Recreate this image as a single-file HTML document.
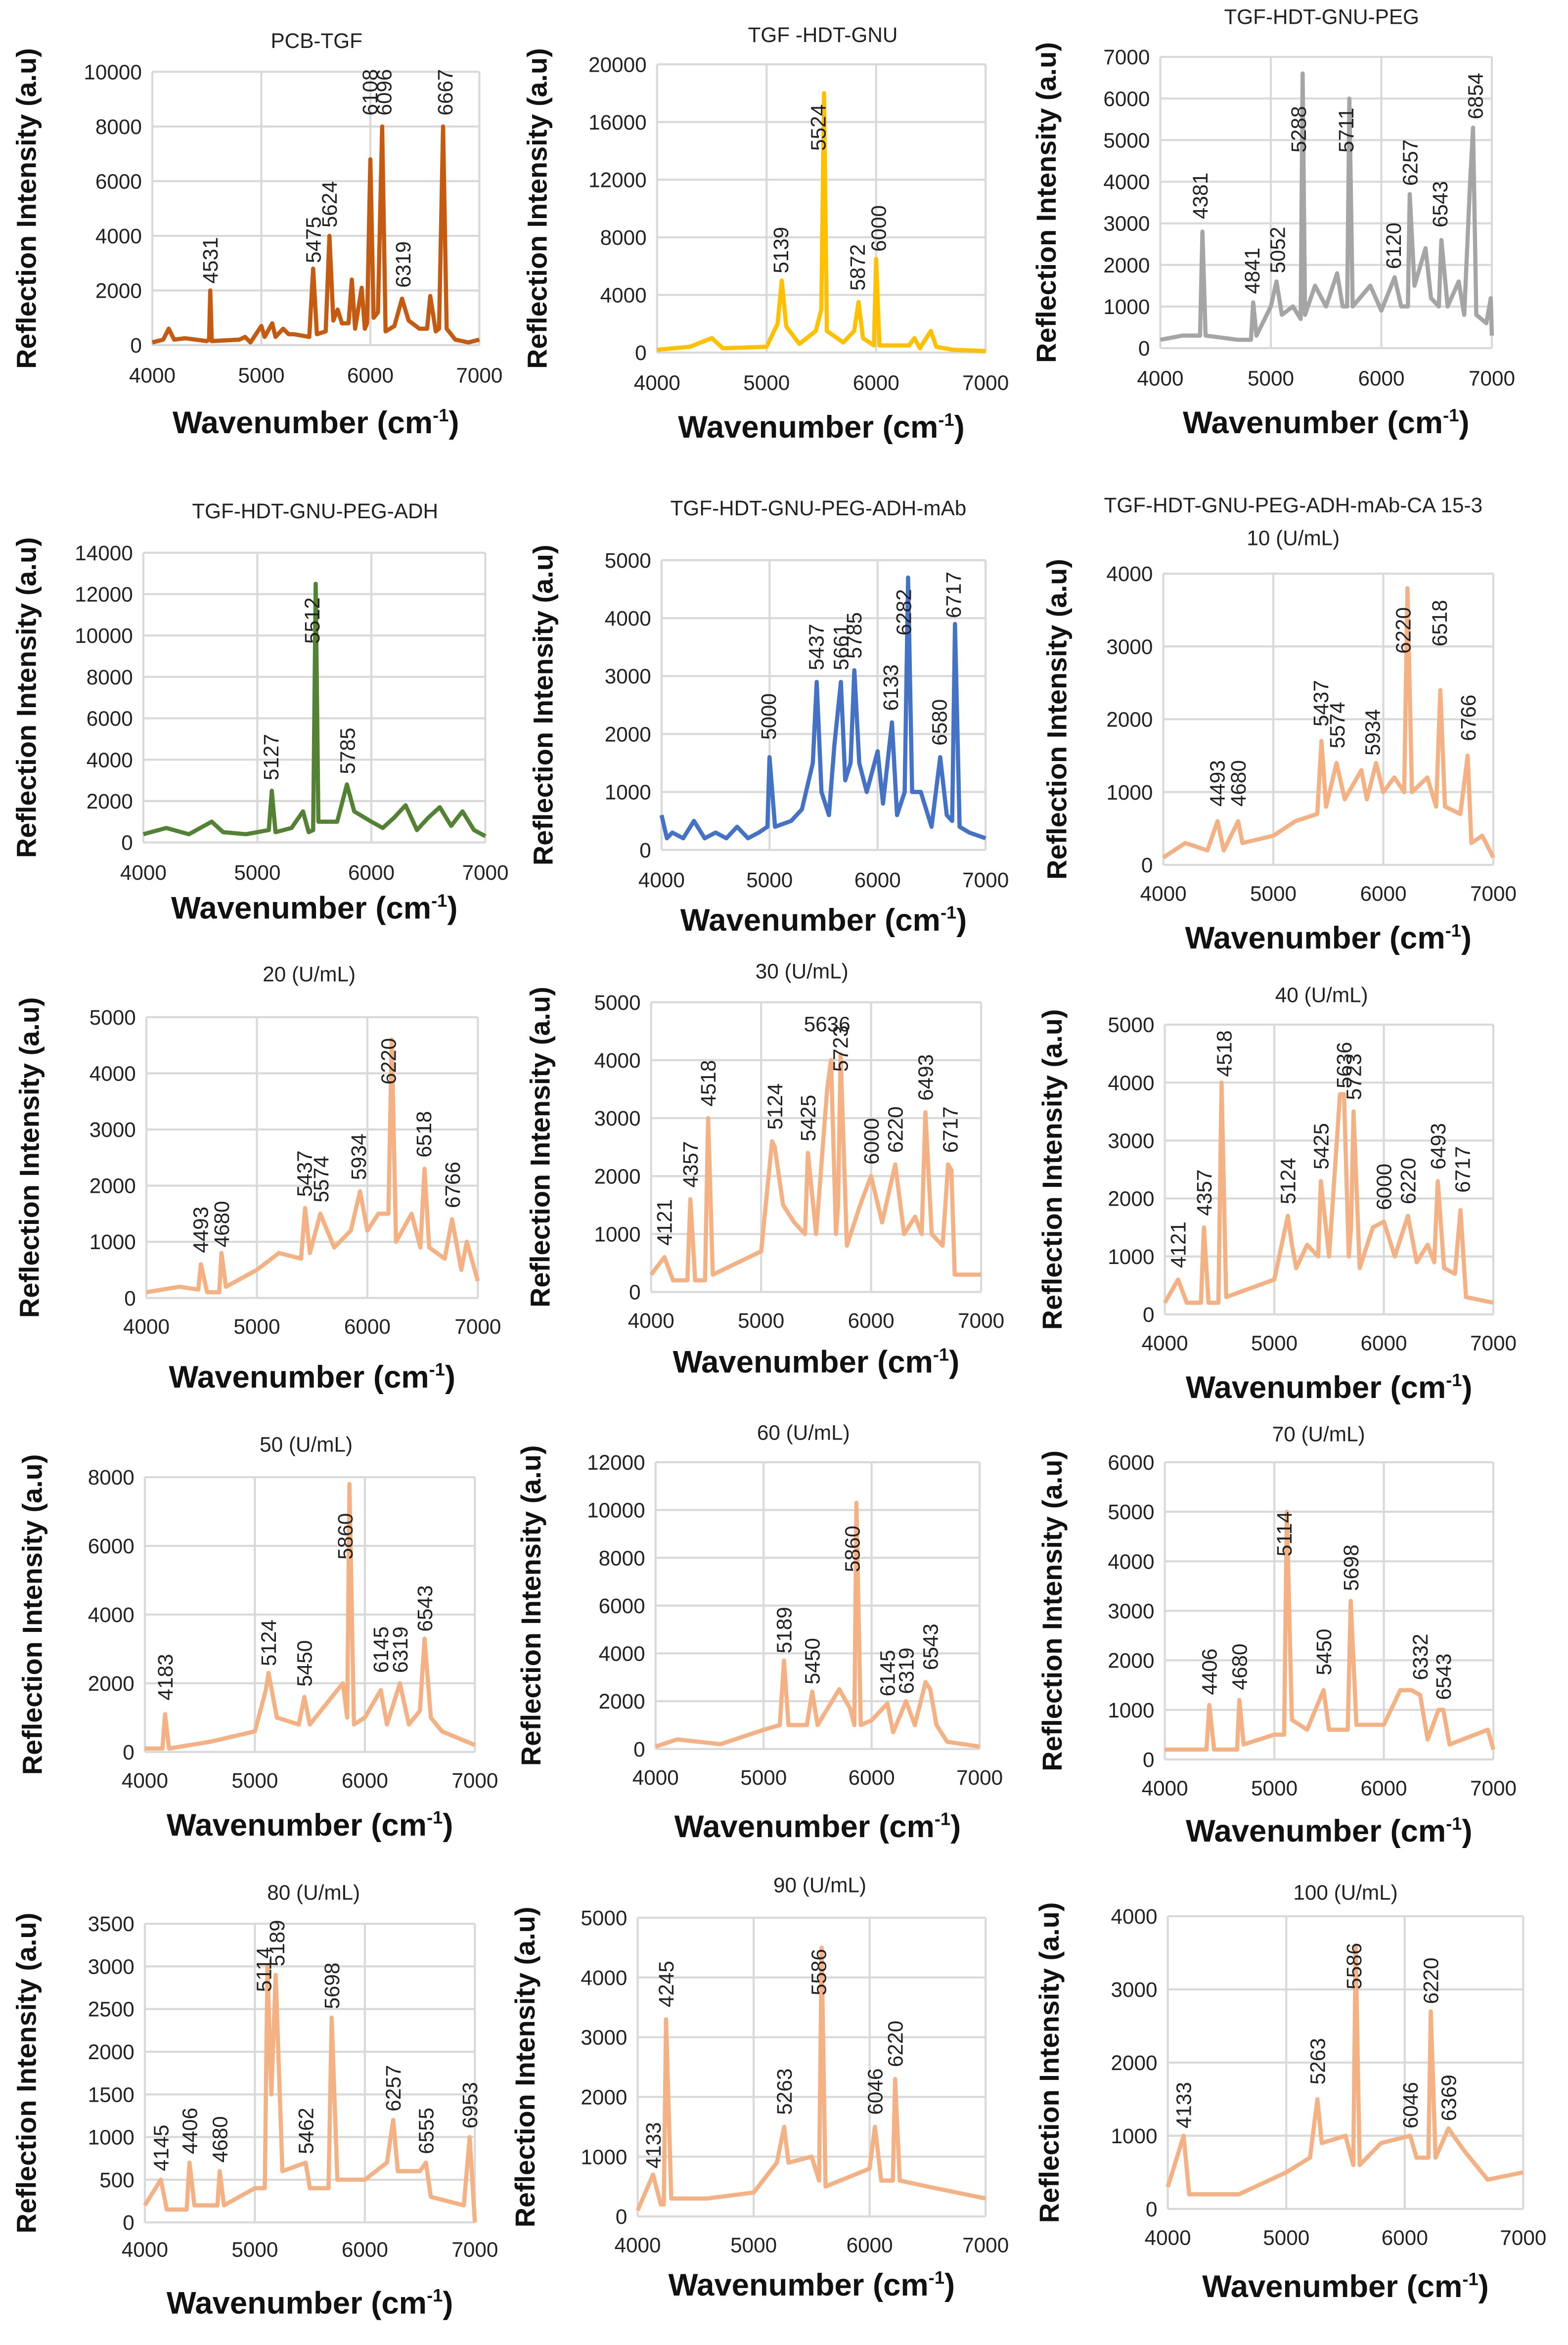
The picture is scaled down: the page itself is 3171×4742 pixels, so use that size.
<!DOCTYPE html>
<html><head><meta charset="utf-8"><style>
html,body{margin:0;padding:0;background:#fff}
svg{display:block}
text{font-family:"Liberation Sans",sans-serif}
</style></head><body>
<svg id="fig" width="3171" height="4742" viewBox="0 0 1050 1570" xmlns="http://www.w3.org/2000/svg"></svg>
<script>
const xTicks=[4000,5000,6000,7000];
const s1=[[4000,100],[4100,200],[4150,600],[4200,200],[4300,250],[4500,150],[4520,200],[4531,2000],[4545,150],[4800,200],[4850,300],[4900,100],[5000,700],[5030,300],[5100,800],[5130,300],[5200,600],[5250,400],[5300,400],[5440,300],[5475,2800],[5510,400],[5590,500],[5624,4000],[5660,900],[5700,1300],[5740,800],[5800,800],[5830,2400],[5860,600],[5920,2100],[5950,600],[5970,800],[6000,6800],[6030,1000],[6070,1200],[6108,8000],[6140,500],[6220,700],[6290,1700],[6350,900],[6450,600],[6520,600],[6550,1800],[6600,500],[6630,600],[6667,8000],[6700,600],[6780,200],[6900,100],[7000,200]];
const l1=[["4531",4531,2250],["5475",5475,3000],["5624",5624,4300],["6108",5995,8400],["6096",6125,8400],["6319",6300,2100],["6667",6685,8400]];
const s2=[[4000,200],[4300,400],[4500,1000],[4600,300],[5000,400],[5100,2000],[5139,5000],[5180,1800],[5300,600],[5450,1500],[5500,3000],[5524,18000],[5550,1500],[5700,700],[5800,1500],[5840,3500],[5880,1000],[5980,500],[6000,6500],[6030,500],[6300,500],[6350,1000],[6400,300],[6500,1500],[6550,400],[6700,200],[7000,100]];
const l2=[["5139",5130,5500],["5524",5470,14000],["5872",5830,4300],["6000",6020,7000]];
const s3=[[4000,200],[4200,300],[4360,300],[4381,2800],[4410,300],[4700,200],[4820,200],[4841,1100],[4870,300],[5000,1000],[5052,1600],[5100,800],[5200,1000],[5270,700],[5288,6600],[5310,800],[5400,1500],[5500,1000],[5600,1800],[5650,1000],[5690,1000],[5711,6000],[5740,1000],[5900,1500],[6000,900],[6120,1700],[6180,1000],[6240,1000],[6257,3700],[6300,1500],[6400,2400],[6450,1200],[6520,1000],[6543,2600],[6600,1000],[6700,1600],[6750,800],[6800,3800],[6830,5300],[6860,800],[6950,600],[6990,1200],[7000,300]];
const l3=[["4381",4360,3100],["4841",4830,1300],["5052",5060,1800],["5288",5250,4700],["5711",5680,4700],["6120",6110,1900],["6257",6260,3900],["6543",6530,2900],["6854",6850,5500]];
const s4=[[4000,400],[4200,700],[4400,400],[4600,1000],[4700,500],[4900,400],[5100,600],[5127,2500],[5160,500],[5300,700],[5400,1500],[5450,500],[5490,600],[5512,12500],[5535,1000],[5700,1000],[5785,2800],[5850,1500],[6000,1000],[6100,700],[6200,1200],[6300,1800],[6400,600],[6500,1200],[6600,1700],[6700,800],[6800,1500],[6900,600],[7000,300]];
const l4=[["5127",5120,3000],["5512",5480,9600],["5785",5790,3300]];
const s5=[[4000,600],[4050,200],[4100,300],[4200,200],[4300,500],[4400,200],[4500,300],[4600,200],[4700,400],[4800,200],[4900,300],[4980,400],[5000,1600],[5050,400],[5200,500],[5300,700],[5400,1500],[5437,2900],[5480,1000],[5550,600],[5600,1800],[5661,2900],[5700,1200],[5750,1500],[5785,3100],[5830,1500],[5900,1000],[6000,1700],[6050,800],[6133,2200],[6180,600],[6250,1000],[6282,4700],[6320,1000],[6400,1000],[6500,400],[6580,1600],[6640,600],[6690,500],[6717,3900],[6760,400],[6850,300],[7000,200]];
const l5=[["5000",4990,1900],["5437",5430,3100],["5661",5660,3100],["5785",5780,3300],["6133",6120,2400],["6282",6240,3700],["6580",6570,1800],["6717",6700,4000]];
const s6=[[4000,100],[4200,300],[4400,200],[4493,600],[4550,200],[4680,600],[4720,300],[5000,400],[5200,600],[5400,700],[5437,1700],[5480,800],[5574,1400],[5650,900],[5800,1300],[5850,900],[5934,1400],[6000,1000],[6100,1200],[6190,1000],[6220,3800],[6260,1000],[6400,1200],[6480,800],[6518,2400],[6560,800],[6700,700],[6766,1500],[6800,300],[6900,400],[7000,100]];
const l6=[["4493",4490,800],["4680",4680,800],["5437",5430,1900],["5574",5580,1600],["5934",5900,1500],["6220",6180,2900],["6518",6510,3000],["6766",6770,1700]];
const s7=[[4000,100],[4300,200],[4470,150],[4493,600],[4550,100],[4660,100],[4680,800],[4720,200],[5000,500],[5200,800],[5400,700],[5437,1600],[5480,800],[5574,1500],[5700,900],[5850,1200],[5934,1900],[6000,1200],[6100,1500],[6190,1500],[6220,4600],[6260,1000],[6400,1500],[6480,900],[6518,2300],[6560,900],[6700,700],[6766,1400],[6850,500],[6900,1000],[7000,300]];
const l7=[["4493",4490,800],["4680",4680,900],["5437",5430,1800],["5574",5580,1700],["5934",5920,2100],["6220",6190,3800],["6518",6510,2500],["6766",6770,1600]];
const s8=[[4000,300],[4121,600],[4200,200],[4330,200],[4357,1600],[4400,200],[4490,200],[4518,3000],[4560,300],[5000,700],[5100,2600],[5124,2500],[5200,1500],[5300,1200],[5400,1000],[5425,2400],[5500,1000],[5600,3500],[5636,4000],[5680,1000],[5700,1500],[5723,4100],[5780,800],[5900,1500],[6000,2000],[6100,1200],[6220,2200],[6300,1000],[6400,1300],[6460,1000],[6493,3100],[6550,1000],[6650,800],[6700,2200],[6730,2100],[6760,300],[7000,300]];
const l8=[["4121",4121,800],["4357",4357,1800],["4518",4518,3200],["5124",5124,2800],["5425",5425,2600],["5723",5720,3800],["6000",6000,2200],["6220",6220,2400],["6493",6493,3300],["6717",6717,2400]];
const s9=[[4000,200],[4121,600],[4200,200],[4330,200],[4357,1500],[4400,200],[4490,200],[4518,4000],[4560,300],[5000,600],[5124,1700],[5160,1200],[5200,800],[5300,1200],[5400,1000],[5425,2300],[5500,1000],[5600,3800],[5636,3800],[5680,1000],[5700,1500],[5723,3500],[5780,800],[5900,1500],[6000,1600],[6100,1000],[6220,1700],[6300,900],[6400,1200],[6460,900],[6493,2300],[6550,800],[6650,700],[6700,1800],[6750,300],[7000,200]];
const l9=[["4121",4121,800],["4357",4357,1700],["4518",4540,4100],["5124",5124,1900],["5425",5425,2500],["5636",5636,3900],["5723",5723,3700],["6000",6000,1800],["6220",6220,1900],["6493",6493,2500],["6717",6717,2100]];
const s10=[[4000,100],[4160,100],[4183,1100],[4220,100],[4600,300],[5000,600],[5100,1800],[5124,2300],[5200,1000],[5400,800],[5450,1600],[5500,800],[5700,1600],[5800,2000],[5840,1000],[5860,7800],[5900,800],[6000,1000],[6145,1800],[6200,800],[6319,2000],[6400,800],[6500,1200],[6543,3300],[6600,1000],[6700,600],[7000,200]];
const l10=[["4183",4183,1500],["5124",5124,2500],["5450",5450,1900],["5860",5820,5600],["6145",6145,2300],["6319",6319,2300],["6543",6543,3500]];
const s11=[[4000,100],[4200,400],[4600,200],[5000,800],[5150,1000],[5189,3700],[5230,1000],[5400,1000],[5450,2400],[5500,1000],[5700,2500],[5800,1700],[5840,1000],[5860,10300],[5900,1000],[6000,1200],[6145,1900],[6200,700],[6319,2000],[6400,1000],[6500,2800],[6543,2500],[6600,1000],[6700,300],[7000,100]];
const l11=[["5189",5189,4000],["5450",5450,2700],["5860",5820,7400],["6145",6145,2200],["6319",6319,2300],["6543",6543,3300]];
const s12=[[4000,200],[4380,200],[4406,1100],[4450,200],[4660,200],[4680,1200],[4720,300],[5000,500],[5090,500],[5114,5000],[5160,800],[5300,600],[5450,1400],[5500,600],[5670,600],[5698,3200],[5750,700],[6000,700],[6150,1400],[6250,1400],[6332,1300],[6400,400],[6500,1000],[6543,1000],[6600,300],[6950,600],[7000,200]];
const l12=[["4406",4406,1300],["4680",4680,1400],["5114",5090,4100],["5450",5450,1700],["5698",5698,3400],["6332",6332,1600],["6543",6543,1200]];
const s13=[[4000,200],[4145,500],[4200,150],[4380,150],[4406,700],[4450,200],[4660,200],[4680,600],[4720,200],[5000,400],[5090,400],[5114,3000],[5150,1500],[5189,2900],[5250,600],[5462,700],[5500,400],[5670,400],[5698,2400],[5750,500],[6000,500],[6200,700],[6257,1200],[6300,600],[6500,600],[6555,700],[6600,300],[6900,200],[6953,1000],[7000,0]];
const l13=[["4145",4145,600],["4406",4406,800],["4680",4680,700],["5114",5080,2700],["5189",5200,3000],["5462",5462,800],["5698",5698,2500],["6257",6257,1300],["6555",6555,800],["6953",6953,1100]];
const s14=[[4000,100],[4133,700],[4200,200],[4225,200],[4245,3300],[4290,300],[4600,300],[5000,400],[5200,900],[5263,1500],[5300,900],[5500,1000],[5565,600],[5586,4500],[5620,500],[6000,800],[6046,1500],[6100,600],[6200,600],[6220,2300],[6260,600],[6500,500],[7000,300]];
const l14=[["4133",4133,800],["4245",4245,3500],["5263",5263,1700],["5586",5560,3700],["6046",6046,1700],["6220",6220,2500]];
const s15=[[4000,300],[4133,1000],[4180,200],[4600,200],[5000,500],[5200,700],[5263,1500],[5300,900],[5500,1000],[5565,600],[5586,3600],[5620,600],[5800,900],[6046,1000],[6100,700],[6200,700],[6220,2700],[6260,700],[6369,1100],[6500,800],[6700,400],[7000,500]];
const l15=[["4133",4133,1100],["5263",5263,1700],["5586",5570,3000],["6046",6046,1100],["6220",6220,2800],["6369",6369,1200]];
const yT1=[0,2000,4000,6000,8000,10000];
const yT2=[0,4000,8000,12000,16000,20000];
const yT3=[0,1000,2000,3000,4000,5000,6000,7000];
const yT4=[0,2000,4000,6000,8000,10000,12000,14000];
const yT5=[0,1000,2000,3000,4000,5000];
const yT6=[0,1000,2000,3000,4000];
const yT8=[0,2000,4000,6000,8000];
const yT9=[0,2000,4000,6000,8000,10000,12000];
const yT10=[0,1000,2000,3000,4000,5000,6000];
const yT11=[0,500,1000,1500,2000,2500,3000,3500];

const panels=[
{t:["PCB-TGF"],ty:32,tx:212,l:102,r:321,top:48,bot:231,yt:yT1,c:"#c55a11",s:s1,lab:l1,xl:256,xlab:290,yl:18},
{t:["TGF -HDT-GNU"],ty:28,tx:551,l:440,r:660,top:43,bot:236,yt:yT2,c:"#ffc000",s:s2,lab:l2,xl:261,xlab:293,yl:360},
{t:["TGF-HDT-GNU-PEG"],ty:16,tx:885,l:777,r:999,top:38,bot:233,yt:yT3,c:"#a5a5a5",s:s3,lab:l3,xl:258,xlab:290,yl:701},
{t:["TGF-HDT-GNU-PEG-ADH"],ty:347,tx:211,l:96,r:325,top:370,bot:564,yt:yT4,c:"#548235",s:s4,lab:l4,xl:589,xlab:615,yl:18},
{t:["TGF-HDT-GNU-PEG-ADH-mAb"],ty:345,tx:548,l:443,r:660,top:375,bot:569,yt:yT5,c:"#4472c4",s:s5,lab:l5,xl:594,xlab:623,yl:364},
{t:["TGF-HDT-GNU-PEG-ADH-mAb-CA 15-3","10 (U/mL)"],ty:343,tx:866,l:779,r:1000,top:384,bot:579,yt:yT6,c:"#f4b183",s:s6,lab:l6,xl:603,xlab:635,yl:708},
{t:["20 (U/mL)"],ty:657,tx:207,l:98,r:320,top:681,bot:869,yt:yT5,c:"#f4b183",s:s7,lab:l7,xl:893,xlab:929,yl:20},
{t:["30 (U/mL)"],ty:655,tx:537,l:436,r:657,top:671,bot:865,yt:yT5,c:"#f4b183",s:s8,lab:l8,xl:889,xlab:919,yl:362,h:["5636",5600,4500]},
{t:["40 (U/mL)"],ty:671,tx:885,l:780,r:1000,top:686,bot:880,yt:yT5,c:"#f4b183",s:s9,lab:l9,xl:904,xlab:936,yl:705},
{t:["50 (U/mL)"],ty:972,tx:205,l:97,r:318,top:989,bot:1173,yt:yT8,c:"#f4b183",s:s10,lab:l10,xl:1197,xlab:1229,yl:22},
{t:["60 (U/mL)"],ty:964,tx:538,l:439,r:656,top:979,bot:1171,yt:yT9,c:"#f4b183",s:s11,lab:l11,xl:1195,xlab:1230,yl:356},
{t:["70 (U/mL)"],ty:965,tx:883,l:780,r:1000,top:979,bot:1178,yt:yT10,c:"#f4b183",s:s12,lab:l12,xl:1202,xlab:1233,yl:705},
{t:["80 (U/mL)"],ty:1272,tx:210,l:97,r:318,top:1288,bot:1488,yt:yT11,c:"#f4b183",s:s13,lab:l13,xl:1511,xlab:1549,yl:18},
{t:["90 (U/mL)"],ty:1267,tx:549,l:427,r:660,top:1284,bot:1484,yt:yT5,c:"#f4b183",s:s14,lab:l14,xl:1508,xlab:1537,yl:352},
{t:["100 (U/mL)"],ty:1272,tx:901,l:782,r:1020,top:1283,bot:1479,yt:yT6,c:"#f4b183",s:s15,lab:l15,xl:1503,xlab:1538,yl:703}
];
const NS="http://www.w3.org/2000/svg";
const svg=document.getElementById('fig');
function mk(tag,attrs,parent){const e=document.createElementNS(NS,tag);for(const k in attrs)e.setAttribute(k,attrs[k]);parent.appendChild(e);return e;}
panels.forEach((p,i)=>{
  const g=mk('g',{},svg);
  
  
  const ymax=p.yt[p.yt.length-1];
  const X=v=>p.l+(v-4000)/3000*(p.r-p.l);
  const Y=v=>p.bot-v/ymax*(p.bot-p.top);
  p.yt.forEach(v=>{const ln=mk('line',{x1:p.l,x2:p.r,y1:Y(v),y2:Y(v),stroke:'#d9d9d9','stroke-width':1.4},g);
    
    
    const t=mk('text',{x:p.l-7,y:Y(v)+5,'text-anchor':'end','font-size':14,fill:'#222'},g);t.textContent=v;
    
    });
  xTicks.forEach(v=>{const ln=mk('line',{x1:X(v),x2:X(v),y1:p.top,y2:p.bot,stroke:'#d9d9d9','stroke-width':1.4},g);
    
    
    const t=mk('text',{x:X(v),y:p.xl,'text-anchor':'middle','font-size':14,fill:'#222'},g);t.textContent=v;
    
    });
  const d=p.s.map((pt,k)=>(k?'L':'M')+X(pt[0]).toFixed(1)+' '+Y(pt[1]).toFixed(1)).join(' ');
  const path=mk('path',{d:d,fill:'none',stroke:p.c,'stroke-width':2.8,'stroke-linejoin':'round'},g);
  
  
  p.lab.forEach(L=>{const t=mk('text',{transform:`translate(${X(L[1])+5},${Y(L[2])}) rotate(-90)`,'font-size':14,fill:'#222'},g);t.textContent=L[0];
    
    });
  if(p.h){const t=mk('text',{x:X(p.h[1]),y:Y(p.h[2]),'text-anchor':'middle','font-size':14,fill:'#222'},g);t.textContent=p.h[0];
    
    }
  p.t.forEach((s,k)=>{const t=mk('text',{x:p.tx,y:p.ty+k*22,'text-anchor':'middle','font-size':14,fill:'#222'},g);t.textContent=s;
    
    });
  const xt=mk('text',{x:(p.l+p.r)/2,y:p.xlab,'text-anchor':'middle','font-size':21,'font-weight':'bold',fill:'#111'},g);
  xt.innerHTML='Wavenumber (cm<tspan dy="-8" font-size="12">-1</tspan><tspan dy="8">)</tspan>';
  
  
  const yt=mk('text',{transform:`translate(${p.yl+6},${(p.top+p.bot)/2}) rotate(-90)`,'text-anchor':'middle','font-size':18.5,'font-weight':'bold',fill:'#111'},g);
  yt.textContent='Reflection Intensity (a.u)';
  
  
});
</script>
</body></html>
